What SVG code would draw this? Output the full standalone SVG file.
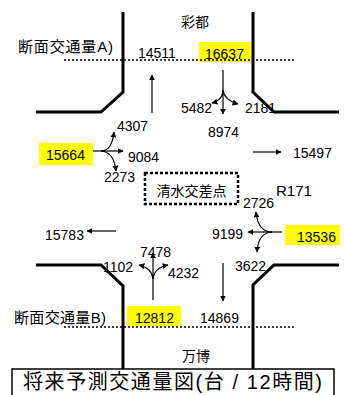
<svg xmlns="http://www.w3.org/2000/svg" width="344" height="395" viewBox="0 0 344 395">
<style>
.road{fill:none;stroke:#000;stroke-width:3}
.cut{fill:none;stroke:#000;stroke-width:1.5;stroke-dasharray:2 2}
.ar{fill:none;stroke:#000;stroke-width:1.2;marker-end:url(#ah)}
.ln{fill:none;stroke:#000;stroke-width:1.2}
.n{font-family:"Liberation Sans",Arial,sans-serif;font-size:14px;fill:#000}
.j{font-family:"Liberation Sans","Noto Sans CJK JP",sans-serif;font-size:14px;fill:#000}
.hl{fill:#ffff00}
</style>
<defs>
<marker id="ah" viewBox="0 0 10 10" refX="9" refY="5" markerWidth="6" markerHeight="6" markerUnits="userSpaceOnUse" orient="auto">
<path d="M0,0 L10,5 L0,10 z" fill="#000"/>
</marker>
</defs>
<rect width="344" height="395" fill="#fff"/>
<g id="roads">
<polyline class="road" points="123,12 123,92 101,112 36,112"/>
<polyline class="road" points="253,12 253,92 274,112 339,112"/>
<polyline class="road" points="36,265 101,265 123,286 123,369"/>
<polyline class="road" points="339,265 274,265 253,285 253,369"/>
</g>
<g id="highlights">
<rect class="hl" x="199" y="42" width="52" height="20"/>
<rect class="hl" x="39" y="143" width="54" height="22"/>
<rect class="hl" x="285" y="225" width="55" height="20"/>
<rect class="hl" x="127" y="306" width="54" height="20"/>
</g>
<g id="sections">
<line class="cut" x1="64" y1="60" x2="296" y2="60"/>
<line class="cut" x1="64" y1="327" x2="296" y2="327"/>
</g>
<g id="connectors">
<line class="ar" x1="152" y1="113" x2="152" y2="75"/>
<line class="ln" x1="223" y1="70" x2="223" y2="92"/>
<line class="ar" x1="223" y1="92" x2="223" y2="114"/>
<path class="ar" d="M223,90 Q223,100 212,103"/>
<path class="ar" d="M223,90 Q224,100 238,104"/>
<line class="ln" x1="93" y1="151" x2="103" y2="151"/>
<line class="ar" x1="103" y1="151" x2="123" y2="151"/>
<path class="ar" d="M101,151 Q112,151 114,132"/>
<path class="ar" d="M101,151 Q114,152 116,171"/>
<line class="ar" x1="253" y1="152" x2="281" y2="152"/>
<line class="ln" x1="282" y1="232" x2="270" y2="232"/>
<line class="ar" x1="270" y1="232" x2="248" y2="232"/>
<path class="ar" d="M272,232 Q258,232 256,212"/>
<path class="ar" d="M272,232 Q258,233 257,252"/>
<line class="ar" x1="116" y1="231" x2="87" y2="231"/>
<line class="ar" x1="223" y1="263" x2="223" y2="301"/>
<line class="ln" x1="153" y1="300" x2="153" y2="277"/>
<line class="ar" x1="153" y1="277" x2="153" y2="253"/>
<path class="ar" d="M153,279 Q152,268 139,265"/>
<path class="ar" d="M153,279 Q154,268 168,265"/>
</g>
<g id="labels">
<text class="j" x="181" y="27" style="font-size:14px">彩都</text>
<text class="j" x="18" y="52" style="font-size:15px" textLength="95" lengthAdjust="spacing">断面交通量A)</text>
<text class="n" x="138" y="58">14511</text>
<text class="n" x="205" y="59">16637</text>
<text class="n" x="181" y="113">5482</text>
<text class="n" x="245" y="113">2181</text>
<text class="n" x="208" y="137">8974</text>
<text class="n" x="117" y="131">4307</text>
<text class="n" x="46" y="160">15664</text>
<text class="n" x="128" y="162">9084</text>
<text class="n" x="104" y="182">2273</text>
<text class="n" x="293" y="158">15497</text>
<text class="n" x="276" y="196" style="font-size:15px">R171</text>
<text class="n" x="243" y="208">2726</text>
<text class="n" x="212" y="239">9199</text>
<text class="n" x="297" y="242">13536</text>
<text class="n" x="45" y="240">15783</text>
<text class="n" x="235" y="271">3622</text>
<text class="n" x="140" y="257">7478</text>
<text class="n" x="103" y="272">1102</text>
<text class="n" x="168" y="278">4232</text>
<text class="n" x="135" y="323">12812</text>
<text class="n" x="200" y="323">14869</text>
<text class="j" x="14" y="323" style="font-size:15px" textLength="92" lengthAdjust="spacing">断面交通量B)</text>
<text class="j" x="182" y="361" style="font-size:14px">万博</text>
</g>
<g id="node-shimizu">
<rect x="145" y="173" width="93" height="31" fill="#fff" stroke="#000" stroke-width="2.5" stroke-dasharray="3 2"/>
<text class="j" x="191.5" y="196" text-anchor="middle">清水交差点</text>
</g>
<g id="title">
<rect x="12" y="369" width="322" height="30" fill="#fff" stroke="#000" stroke-width="1.5"/>
<text class="j" x="23" y="389" style="font-size:20px" textLength="299" lengthAdjust="spacing">将来予測交通量図(台 / 12時間)</text>
</g>
</svg>
